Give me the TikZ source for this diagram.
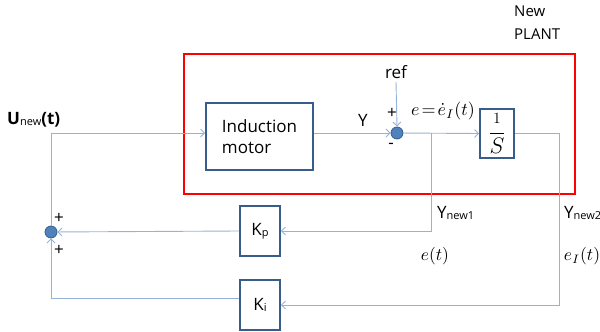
\documentclass[tikz,border=0pt]{standalone}
\usepackage{graphicx}
\usepackage{fontspec}
\setmainfont{Open Sans}
\usetikzlibrary{arrows.meta}
\definecolor{lineblue}{RGB}{149,179,215}
\definecolor{boxblue}{RGB}{56,93,138}
\definecolor{dotblue}{RGB}{79,129,189}
\begin{document}
\begin{tikzpicture}[x=1pt,y=-1pt,
  sig/.style={draw=lineblue, line width=0.9pt},
  arr/.style={sig,-{Straight Barb[length=4pt,width=8pt]}},
  blk/.style={draw=boxblue,line width=1.6pt,fill=white,inner sep=0pt,font=\fontsize{17}{21}\selectfont},
  sumj/.style={circle,fill=dotblue,draw=boxblue,line width=0.8pt,minimum size=12pt,inner sep=0pt},
  lbl/.style={font=\fontsize{17}{19}\selectfont,inner sep=0pt},
  mth/.style={inner sep=0pt},
  sml/.style={font=\fontsize{15}{23}\selectfont,inner sep=0pt},
]
\useasboundingbox (0,0) rectangle (600,332);
\draw[red, line width=1.8pt] (184,54) rectangle (575,194);
\node[blk,minimum width=107pt,minimum height=67pt,align=left] (motor) at (259.5,136.5) {Induction\\motor};
\node[sumj] (s2) at (397,133) {};
\node[sumj] (s1) at (51,232) {};
\node[blk,minimum width=34pt,minimum height=49pt] (integ) at (497,133.5) {\scalebox{1.3}{$\displaystyle\frac{\scriptstyle 1}{S}$}};
\node[blk,minimum width=40pt,minimum height=50pt] (kp) at (260,231) {K{\fontsize{11}{12}\selectfont\raisebox{-1pt}{p}}};
\node[blk,minimum width=40pt,minimum height=50pt] (ki) at (260,305) {K{\fontsize{11}{12}\selectfont\raisebox{-1pt}{i}}};
\node[lbl] (ref) at (396,72) {ref};
\coordinate (b1) at (431,133);
\coordinate (c2) at (559,133);
% connectors
\draw[arr] (s1.north) |- ([yshift=3.5pt]motor.west);
\draw[arr] ([yshift=3.5pt]motor.east) -- (s2);
\draw[arr] ([yshift=-3pt]ref.south) -- (s2.north);
\draw[arr] (s2) -- (integ.west);
\draw[arr] (b1) |- (kp.east);
\draw[sig] (integ.east |- c2) -- (c2);
\draw[arr] (c2) |- (ki.east);
\draw[arr] (kp.west) -- (s1);
\draw[arr] ([yshift=7pt]ki.west) -| (s1.south);
% labels
\node[lbl] (ylab) at (363,120) {Y};
\node[lbl] (p2) at (392,113) {+};
\node[lbl] (m2) at (391,146) {-};
\node[mth] (eq) at (443,111) {\scalebox{1.8}{$e\!=\!\dot{e}_I(t)$}};
\node[lbl,anchor=west] (yn1) at (437,213) {Y{\fontsize{11}{12}\selectfont\raisebox{-1pt}{new1}}};
\node[lbl,anchor=west] (yn2) at (564,213) {Y{\fontsize{11}{12}\selectfont\raisebox{-1pt}{new2}}};
\node[mth] (et) at (435,256) {\scalebox{1.75}{$e(t)$}};
\node[mth] (eit) at (582,256) {\scalebox{1.75}{$e_I(t)$}};
\node[lbl,anchor=west,font=\fontsize{17}{19}\bfseries] (un) at (7,120) {U{\mdseries\fontsize{11}{12}\selectfont\raisebox{-1pt}{new}}(t)};
\node[sml,anchor=north west,align=left] (np) at (514,6) {New\\PLANT};
\node[lbl] (p1a) at (59,218) {+};
\node[lbl] (p1b) at (59,250) {+};
\end{tikzpicture}
\end{document}
